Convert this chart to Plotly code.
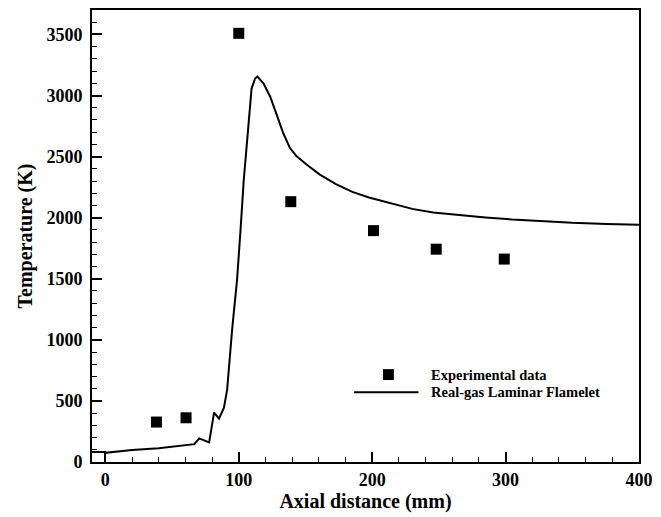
import plotly.graph_objects as go

# Experimental data
exp_x = [38.3, 60.5, 100, 139, 201, 248, 299]
exp_T = [327, 362, 3509, 2131, 1894, 1742, 1661]

# Real-gas Laminar Flamelet
sim_x = [-10, -0.1, 0, 20, 40, 55.6, 66.7, 70.4, 77.8, 81.5, 85.2, 88.9, 91.3, 95, 98.7, 101.3,
         103.7, 106.2, 109.6, 112.3, 114, 118.5, 123.5, 128.4, 133.3, 138.3, 143.2, 150.6,
         160.5, 172.8, 185.2, 197.6, 207.4, 216, 230, 245.7, 265, 285, 305, 327, 350, 376, 400]
sim_T = [82, 82, 75, 98, 113, 130, 146, 193, 160, 404, 355, 445, 593, 1081, 1488, 1894,
         2301, 2620, 3057, 3141, 3154, 3100, 2992, 2843, 2693, 2572, 2504, 2437,
         2355, 2274, 2211, 2165, 2138, 2110, 2072, 2043, 2020, 2002, 1985, 1970, 1958, 1949, 1943]

legend_labels = ["Experimental data", "Real-gas Laminar Flamelet"]

FONT = "Liberation Serif"

fig = go.Figure()
fig.add_trace(go.Scatter(x=sim_x, y=sim_T, mode="lines", line=dict(color="black", width=2),
                         name=legend_labels[1], showlegend=False))
fig.add_trace(go.Scatter(x=exp_x, y=exp_T, mode="markers",
                         marker=dict(symbol="square", size=11, color="black"),
                         name=legend_labels[0], showlegend=False))

# custom legend (paper coords)
def px2paper_x(px):
    return (px - 92) / 553

def px2paper_y(py):
    return (463 - py) / 455

fig.add_shape(type="rect", xref="paper", yref="paper",
              x0=px2paper_x(386.2), x1=px2paper_x(397.2), y0=px2paper_y(380.5), y1=px2paper_y(369.5),
              fillcolor="black", line=dict(width=0))
fig.add_shape(type="line", xref="paper", yref="paper",
              x0=px2paper_x(357), x1=px2paper_x(422), y0=px2paper_y(392.7), y1=px2paper_y(392.7),
              line=dict(color="black", width=2))
for lab, py in zip(legend_labels, [375, 393]):
    fig.add_annotation(xref="paper", yref="paper", x=px2paper_x(433), y=px2paper_y(py),
                       text=lab, showarrow=False, xanchor="left", yanchor="middle",
                       font=dict(family=FONT, size=14.5, color="black", weight="bold"))

axis_common = dict(
    showline=True, linecolor="black", linewidth=2, mirror=True,
    ticks="inside", ticklen=10, tickwidth=1.5, tickcolor="black",
    showgrid=False, zeroline=False,
    tickfont=dict(family=FONT, size=18, color="black", weight="bold"),
)

fig.update_xaxes(range=[-10, 400], tickvals=[0, 100, 200, 300, 400],
                 minor=dict(ticks="inside", ticklen=5, dtick=20, tick0=0, tickcolor="black", tickwidth=1),
                 title=dict(text="Axial distance (mm)", standoff=5,
                            font=dict(family=FONT, size=20, color="black", weight="bold")),
                 **axis_common)
fig.update_yaxes(range=[0, 3700], tickvals=[0, 500, 1000, 1500, 2000, 2500, 3000, 3500],
                 minor=dict(ticks="inside", ticklen=5, dtick=100, tick0=0, tickcolor="black", tickwidth=1),
                 ticklabelstandoff=4,
                 title=dict(text="Temperature (K)", standoff=8,
                            font=dict(family=FONT, size=20, color="black", weight="bold")),
                 **axis_common)

fig.update_layout(width=661, height=517, margin=dict(l=92, r=16, t=8, b=54),
                  paper_bgcolor="white", plot_bgcolor="white", showlegend=False)

fig.write_html("out.html")
